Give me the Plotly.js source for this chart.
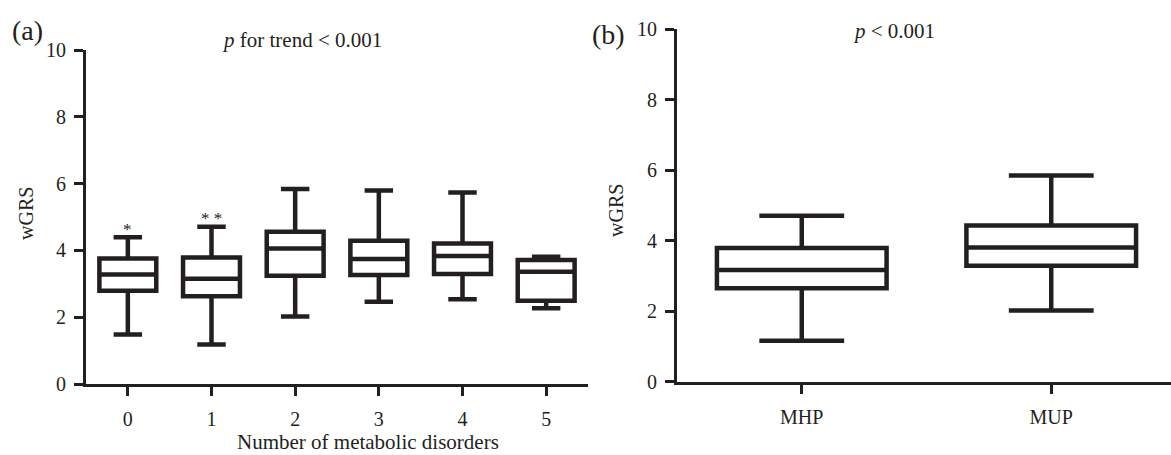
<!DOCTYPE html>
<html>
<head>
<meta charset="utf-8">
<script src="https://cdn.plot.ly/plotly-3.0.1.min.js"></script>
<style>html,body{margin:0;padding:0;background:#fff;}#chart{width:1171px;height:455px;}</style>
</head>
<body>
<div id="chart"></div>
<script>
// Panel (a): number of metabolic disorders
const disorderCats = ["0", "1", "2", "3", "4", "5"];
const disorderUpper = [4.39, 4.71, 5.84, 5.79, 5.73, 3.81];
const disorderQ3 = [3.76, 3.79, 4.56, 4.29, 4.21, 3.71];
const disorderMedian = [3.28, 3.15, 4.06, 3.74, 3.83, 3.36];
const disorderQ1 = [2.79, 2.63, 3.24, 3.26, 3.29, 2.49];
const disorderLower = [1.48, 1.18, 2.02, 2.46, 2.54, 2.27];
const disorderStars = ["*", "* *"];

// Panel (b): MHP vs MUP
const groupCats = ["MHP", "MUP"];
const groupUpper = [4.71, 5.85];
const groupQ3 = [3.79, 4.43];
const groupMedian = [3.17, 3.81];
const groupQ1 = [2.65, 3.29];
const groupLower = [1.16, 2.02];

const yTicks = [0, 2, 4, 6, 8, 10];

const INK = "#231f20";
const FONT = "Liberation Serif";
const W = 1171, H = 455;
const px = x => x / W;
const py = y => 1 - y / H;

const boxStyle = {
  type: "box",
  fillcolor: "#ffffff",
  line: {color: INK, width: 4.5},
  whiskerwidth: 0.5,
  width: 0.68,
  boxpoints: false,
  hoverinfo: "skip",
  showlegend: false
};

const traces = [
  Object.assign({}, boxStyle, {
    x: disorderCats, q1: disorderQ1, median: disorderMedian, q3: disorderQ3,
    lowerfence: disorderLower, upperfence: disorderUpper,
    xaxis: "x", yaxis: "y"
  }),
  Object.assign({}, boxStyle, {
    x: groupCats, q1: groupQ1, median: groupMedian, q3: groupQ3,
    lowerfence: groupLower, upperfence: groupUpper,
    xaxis: "x2", yaxis: "y2"
  })
];

const axisBase = {
  showgrid: false, zeroline: false, showline: true,
  linecolor: INK, linewidth: 3,
  ticks: "outside", ticklen: 9, tickwidth: 3, tickcolor: INK,
  tickfont: {family: FONT, size: 20, color: INK},
  fixedrange: true
};

const layout = {
  width: W, height: H,
  margin: {l: 0, r: 0, t: 0, b: 0},
  paper_bgcolor: "#ffffff", plot_bgcolor: "#ffffff",
  font: {family: FONT, color: INK},
  showlegend: false,
  xaxis: Object.assign({}, axisBase, {
    type: "category", categoryarray: disorderCats, categoryorder: "array",
    domain: [px(86), px(588)], range: [-0.5, 5.5],
    anchor: "y", ticklabelstandoff: 6
  }),
  yaxis: Object.assign({}, axisBase, {
    domain: [py(384), py(50)], range: [0, 10],
    tickvals: yTicks, anchor: "x", ticklabelstandoff: 4
  }),
  xaxis2: Object.assign({}, axisBase, {
    type: "category", categoryarray: groupCats, categoryorder: "array",
    domain: [px(677), 1], range: [-0.5, 1.48],
    anchor: "y2", ticklabelstandoff: 6
  }),
  yaxis2: Object.assign({}, axisBase, {
    domain: [py(381.7), py(29.2)], range: [0, 10],
    tickvals: yTicks, anchor: "x2", ticklabelstandoff: 4
  }),
  annotations: [
    {text: "(a)", xref: "paper", yref: "paper", x: px(28), y: py(31), xanchor: "center", yanchor: "middle",
     showarrow: false, font: {family: FONT, size: 28, color: INK}},
    {text: "<i>p</i> for trend &lt; 0.001", xref: "paper", yref: "paper", x: px(302), y: py(40), xanchor: "center", yanchor: "middle",
     showarrow: false, font: {family: FONT, size: 21, color: INK}},
    {text: "(b)", xref: "paper", yref: "paper", x: px(608), y: py(35), xanchor: "center", yanchor: "middle",
     showarrow: false, font: {family: FONT, size: 28, color: INK}},
    {text: "<i>p</i> &lt; 0.001", xref: "paper", yref: "paper", x: px(894), y: py(31), xanchor: "center", yanchor: "middle",
     showarrow: false, font: {family: FONT, size: 21, color: INK}},
    {text: "wGRS", xref: "paper", yref: "paper", x: px(26), y: py(214), xanchor: "center", yanchor: "middle", textangle: -90,
     showarrow: false, font: {family: FONT, size: 20, color: INK}},
    {text: "wGRS", xref: "paper", yref: "paper", x: px(616), y: py(211), xanchor: "center", yanchor: "middle", textangle: -90,
     showarrow: false, font: {family: FONT, size: 20, color: INK}},
    {text: "Number of metabolic disorders", xref: "paper", yref: "paper", x: px(368), y: 0, xanchor: "center", yanchor: "bottom",
     borderpad: 0, showarrow: false, font: {family: FONT, size: 21, color: INK}},
    {text: disorderStars[0], xref: "x", yref: "y", x: disorderCats[0], y: 4.62, xanchor: "center", yanchor: "middle",
     showarrow: false, font: {family: FONT, size: 17, color: INK}},
    {text: disorderStars[1], xref: "x", yref: "y", x: disorderCats[1], y: 4.95, xanchor: "center", yanchor: "middle",
     showarrow: false, font: {family: FONT, size: 17, color: INK}}
  ]
};

Plotly.newPlot("chart", traces, layout, {staticPlot: true, displayModeBar: false});
</script>
</body>
</html>
